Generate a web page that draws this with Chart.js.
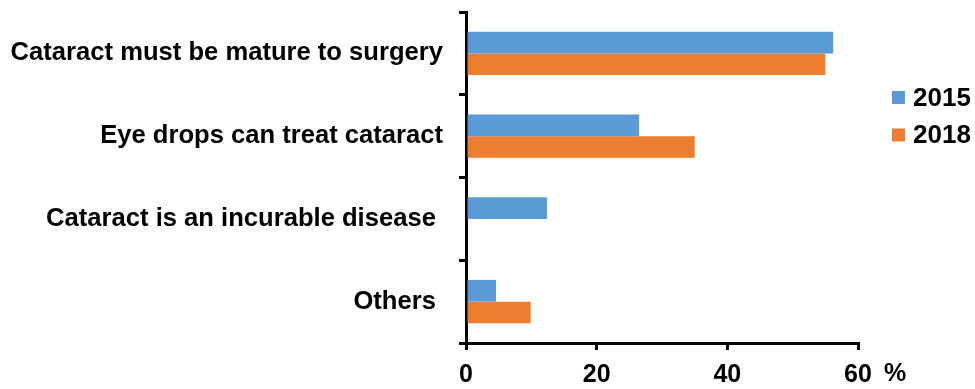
<!DOCTYPE html>
<html>
<head>
<meta charset="utf-8">
<script src="https://cdn.jsdelivr.net/npm/chart.js@4/dist/chart.umd.min.js"></script>
<style>
  html, body { margin: 0; padding: 0; background: #ffffff; }
  #wrap { width: 975px; height: 389px; }
</style>
</head>
<body>
<div id="wrap"><canvas id="chart" width="975" height="389"></canvas></div>
<script>
// Misconceptions about cataract, share of respondents (%)
const categories = [
  'Cataract must be mature to surgery',
  'Eye drops can treat cataract',
  'Cataract is an incurable disease ',
  'Others '
];
const seriesNames = ['2015', '2018'];
const values2015 = [56.2, 26.5, 12.4, 4.6];
const values2018 = [55.0, 35.0, null, 9.9];
const xTicks = [0, 20, 40, 60];
const unitLabel = '%';

const FONT = "'Liberation Sans', Arial, sans-serif";
const BLUE = '#5B9BD5';
const ORANGE = '#ED7D31';

// Draws the "%" unit after the last x tick and a square-marker legend on the right
const extras = {
  id: 'extras',
  afterDraw(chart) {
    const ctx = chart.ctx;
    const xs = chart.scales.x;
    ctx.save();
    ctx.fillStyle = '#000';
    ctx.font = 'bold 25px ' + FONT;
    ctx.textBaseline = 'middle';
    ctx.textAlign = 'left';
    ctx.fillText(unitLabel, xs.getPixelForValue(xTicks[xTicks.length - 1]) + 26, 374);

    ctx.font = 'bold 26px ' + FONT;
    const rowY = [97.5, 135];
    chart.data.datasets.forEach((ds, i) => {
      ctx.fillStyle = ds.backgroundColor;
      ctx.fillRect(892, rowY[i] - 6.5, 13, 13);
      ctx.fillStyle = '#000';
      ctx.fillText(ds.label, 913, rowY[i] + 1);
    });
    ctx.restore();
  }
};

new Chart(document.getElementById('chart'), {
  type: 'bar',
  data: {
    labels: categories,
    datasets: [
      { label: seriesNames[0], data: values2015, backgroundColor: BLUE },
      { label: seriesNames[1], data: values2018, backgroundColor: ORANGE }
    ]
  },
  options: {
    indexAxis: 'y',
    responsive: false,
    animation: false,
    devicePixelRatio: 1,
    layout: { autoPadding: false, padding: { top: 12, right: 117, bottom: 0, left: 0 } },
    categoryPercentage: 0.525,
    barPercentage: 1.0,
    plugins: {
      legend: { display: false },
      tooltip: { enabled: false }
    },
    scales: {
      x: {
        min: 0,
        max: 60,
        afterBuildTicks(scale) { scale.ticks = xTicks.map(v => ({ value: v })); },
        afterFit(scale) {
          scale.height = 46;
          scale.paddingLeft = 0;
          scale.paddingRight = 0;
        },
        border: { display: true, color: '#000', width: 3 },
        grid: {
          display: true,
          drawOnChartArea: false,
          drawTicks: true,
          tickLength: 7,
          color: '#000',
          lineWidth: 3
        },
        ticks: {
          color: '#000',
          font: { family: FONT, size: 25, weight: 'bold' },
          padding: 10,
          maxRotation: 0
        }
      },
      y: {
        afterFit(scale) {
          scale.width = 466;
          scale.paddingTop = 0;
          scale.paddingBottom = 0;
        },
        border: { display: true, color: '#000', width: 3 },
        grid: {
          display: true,
          offset: true,
          drawOnChartArea: false,
          drawTicks: true,
          tickLength: 7,
          color: '#000',
          lineWidth: 3
        },
        ticks: {
          color: '#000',
          font: { family: FONT, size: 25.6, weight: 'bold' },
          padding: 16
        }
      }
    }
  },
  plugins: [extras]
});
</script>
</body>
</html>
